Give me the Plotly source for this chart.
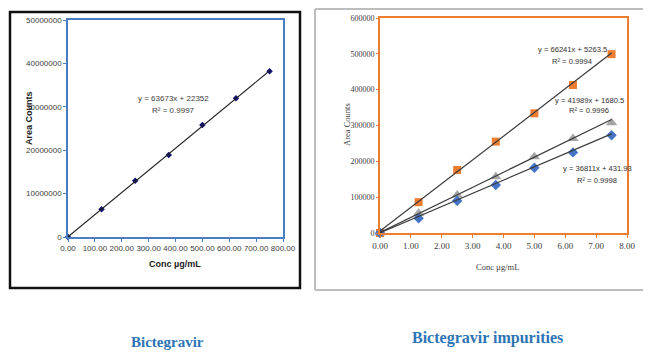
import numpy as np
import plotly.graph_objects as go

# page is rendered with an 8px body margin, so the figure is sized and placed for that
OFF = 8
W, H = 651 - OFF, 352 - OFF

# ---------------- data ----------------
# Left chart: Bictegravir
bic_conc = [0, 125, 250, 375, 500, 625, 750]
bic_area = [0, 6400000, 12950000, 18900000, 25800000, 31950000, 38200000]
bic_eq = "y = 63673x + 22352"
bic_r2 = "R² = 0.9997"
bic_yticks = [0, 10000000, 20000000, 30000000, 40000000, 50000000]
bic_xticks = [0, 100, 200, 300, 400, 500, 600, 700, 800]

# Right chart: Bictegravir impurities
imp_conc = [0, 1.25, 2.5, 3.75, 5.0, 6.25, 7.5]
imp_orange = [0, 86000, 176000, 255000, 334000, 413000, 499000]
imp_gray = [0, 55000, 106000, 157000, 213000, 264000, 308000]
imp_blue = [0, 41000, 90000, 134000, 182000, 225000, 273000]
imp_eqs = ["y = 66241x + 5263.5", "y = 41989x + 1680.5", "y = 36811x + 431.93"]
imp_r2s = ["R² = 0.9994", "R² = 0.9996", "R² = 0.9998"]
imp_slopes = [66241, 41989, 36811]
imp_intercepts = [5263.5, 1680.5, 431.93]
imp_yticks = [0, 100000, 200000, 300000, 400000, 500000, 600000]
imp_xticks = [0, 1, 2, 3, 4, 5, 6, 7, 8]


def px(x):
    return (x - OFF) / W


def py(y):
    return 1 - (y - OFF) / H


fig = go.Figure()

# ---- left chart ----
fit = np.polyfit(bic_conc, bic_area, 1)
lx = [bic_conc[0], bic_conc[-1]]
fig.add_trace(go.Scatter(x=bic_conc, y=bic_area, mode="markers",
                         marker=dict(symbol="diamond", size=5, color="#10106e"),
                         xaxis="x", yaxis="y", showlegend=False, cliponaxis=False))
fig.add_trace(go.Scatter(x=lx, y=[max(0, fit[1]), fit[0] * lx[1] + fit[1]], mode="lines",
                         line=dict(color="#222222", width=1.1),
                         xaxis="x", yaxis="y", showlegend=False))

# ---- right chart ----
for xs, ys, sym, col, sz in [
    (imp_conc, imp_orange, "square", "#ED7D31", 8),
    (imp_conc, imp_gray, "triangle-up", "#A5A5A5", 10),
    (imp_conc, imp_blue, "diamond", "#4472C4", 8),
]:
    fig.add_trace(go.Scatter(x=xs, y=ys, mode="markers",
                             marker=dict(symbol=sym, size=sz, color=col),
                             xaxis="x2", yaxis="y2", showlegend=False, cliponaxis=False))
for m, b in zip(imp_slopes, imp_intercepts):
    xs = [imp_conc[0], imp_conc[-1]]
    fig.add_trace(go.Scatter(x=xs, y=[m * x + b for x in xs], mode="lines",
                             line=dict(color="#3a3a3a", width=1.2),
                             xaxis="x2", yaxis="y2", showlegend=False))

sans = "Liberation Sans, Arial"
serif = "Liberation Serif, Times New Roman, serif"

common = dict(showgrid=False, zeroline=False, showline=True, mirror=True,
              automargin=False, tickangle=0)

fig.update_layout(
    template="none",
    width=W, height=H,
    margin=dict(l=0, r=0, t=0, b=0),
    paper_bgcolor="white", plot_bgcolor="white",
    xaxis=dict(domain=[px(68), px(283)], range=[0, 800], tickvals=bic_xticks,
               ticktext=[f"{v:.2f}" for v in bic_xticks],
               linecolor="#4A7CC0", linewidth=1.5, ticks="outside", ticklen=3,
               tickcolor="#4A7CC0", tickfont=dict(family=sans, size=8, color="#404040"),
               anchor="y", **common),
    yaxis=dict(domain=[py(237), py(20)], range=[0, 50000000], tickvals=bic_yticks,
               ticktext=[str(v) for v in bic_yticks],
               linecolor="#4A7CC0", linewidth=1.5, ticks="outside", ticklen=3,
               tickcolor="#4A7CC0", tickfont=dict(family=sans, size=8, color="#404040"),
               anchor="x", **common),
    xaxis2=dict(domain=[px(380), px(627)], range=[0, 8], tickvals=imp_xticks,
                ticktext=[f"{v:.2f}" for v in imp_xticks],
                linecolor="#ED7D31", linewidth=2, ticks="outside", ticklen=3,
                tickcolor="#ED7D31", tickfont=dict(family=serif, size=9, color="#404040"),
                anchor="y2", **common),
    yaxis2=dict(domain=[py(233), py(18)], range=[0, 600000], tickvals=imp_yticks,
                ticktext=[str(v) for v in imp_yticks],
                linecolor="#ED7D31", linewidth=2, ticks="outside", ticklen=2,
                tickcolor="#ED7D31",
                tickfont=dict(family=serif, size=8, color="#404040"),
                anchor="x2", **common),
)

shapes = [
    # left panel black frame
    dict(type="rect", xref="paper", yref="paper", x0=px(10), x1=px(300), y0=py(288), y1=py(12),
         line=dict(color="#111111", width=2.5)),
    # right panel gray frame lines
    dict(type="line", xref="paper", yref="paper", x0=px(315), x1=px(651), y0=py(9), y1=py(9),
         line=dict(color="#BDBDBD", width=2)),
    dict(type="line", xref="paper", yref="paper", x0=px(315), x1=px(315), y0=py(9), y1=py(290),
         line=dict(color="#BDBDBD", width=2)),
    dict(type="line", xref="paper", yref="paper", x0=px(315), x1=px(651), y0=py(290), y1=py(290),
         line=dict(color="#BDBDBD", width=2)),
]
fig.update_layout(shapes=shapes)

ann = []


def A(text, x, y, size, family, color="#404040", bold=False, angle=0):
    if bold:
        text = f"<b>{text}</b>"
    ann.append(dict(text=text, x=px(x), y=py(y), xref="paper", yref="paper",
                    showarrow=False, xanchor="center", yanchor="middle", textangle=angle,
                    font=dict(family=family, size=size, color=color)))


# left annotations
A(bic_eq, 173, 98, 8, sans)
A(bic_r2, 173, 110, 8, sans)
A("Conc µg/mL", 175, 264, 9, sans, color="#222222", bold=True)
A("Area Counts", 29, 118, 9, sans, color="#222222", bold=True, angle=-90)
A("Bictegravir", 167, 342, 15, serif, color="#2E74B5", bold=True)

# right annotations
A(imp_eqs[0], 572, 49, 7.6, sans, color="#303030")
A(imp_r2s[0], 572, 61, 7.6, sans, color="#303030")
A(imp_eqs[1], 589, 100, 7.6, sans, color="#303030")
A(imp_r2s[1], 589, 111, 7.6, sans, color="#303030")
A(imp_eqs[2], 597, 169, 7.6, sans, color="#303030")
A(imp_r2s[2], 597, 180, 7.6, sans, color="#303030")
A("Conc µg/mL", 497, 267, 8.5, serif, color="#404040")
A("Area Counts", 347, 125, 8.5, serif, color="#404040", angle=-90)
A("Bictegravir impurities", 487, 338, 16, serif, color="#2E74B5", bold=True)

fig.update_layout(annotations=ann)

fig.write_html("out.html")
